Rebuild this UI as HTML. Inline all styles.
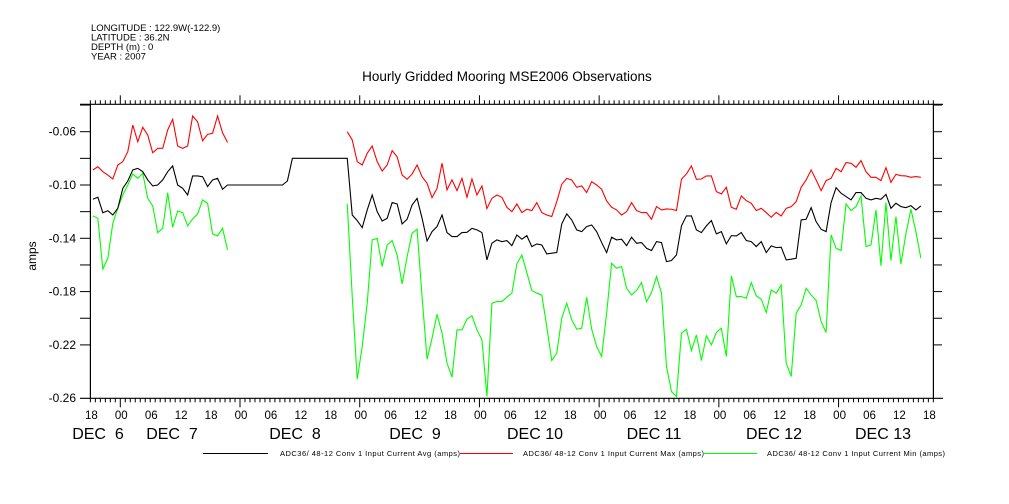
<!DOCTYPE html>
<html><head><meta charset="utf-8">
<style>
html,body{margin:0;padding:0;background:#fff;}
svg{display:block;font-family:"Liberation Sans",sans-serif;}
</style></head>
<body>
<svg id="chart" width="1009" height="504" viewBox="0 0 1009 504" xmlns="http://www.w3.org/2000/svg">
<g font-size="9.5" fill="#000">
<text x="91" y="31">LONGITUDE : 122.9W(-122.9)</text>
<text x="91" y="40.5">LATITUDE : 36.2N</text>
<text x="91" y="50">DEPTH (m) : 0</text>
<text x="91" y="59.5">YEAR : 2007</text>
</g>
<text x="507" y="81" font-size="13.5" text-anchor="middle">Hourly Gridded Mooring MSE2006 Observations</text>
<text x="0" y="0" font-size="12" text-anchor="middle" transform="translate(36,256) rotate(-90)">amps</text>
<g id="axes"></g>
<g id="series"></g>
<g font-size="7.5">
<line x1="203" y1="453.5" x2="268" y2="453.5" stroke="#000" stroke-width="1"/>
<text x="280" y="456" textLength="180">ADC36/ 48-12 Conv 1 Input Current Avg (amps)</text>
<line x1="460" y1="453.5" x2="513" y2="453.5" stroke="#f00" stroke-width="1"/>
<text x="523" y="456" textLength="181">ADC36/ 48-12 Conv 1 Input Current Max (amps)</text>
<line x1="703" y1="453.5" x2="757" y2="453.5" stroke="#0f0" stroke-width="1"/>
<text x="767" y="456" textLength="178">ADC36/ 48-12 Conv 1 Input Current Min (amps)</text>
</g>
</svg>
<script>
// hours since Dec 6 00:00 of first sample in each segment
const seg1Start = -5.5;
const gapStart = 22.5;
const seg2Start = 45.5;
const yTicks = [-0.06,-0.10,-0.14,-0.18,-0.22,-0.26];
const yTickLabels = ["-0.06","-0.10","-0.14","-0.18","-0.22","-0.26"];
const hourLabels = ["18","00","06","12","18","00","06","12","18","00","06","12","18","00","06","12","18","00","06","12","18","00","06","12","18","00","06","12","18"];
const dayLabels = ["DEC  6","DEC  7","DEC  8","DEC  9","DEC 10","DEC 11","DEC 12","DEC 13"];

const maxSeg1 = [-0.0887,-0.0863,-0.090,-0.0925,-0.0955,-0.085,-0.0825,-0.075,-0.055,-0.0675,-0.0567,-0.0625,-0.0758,-0.0725,-0.0725,-0.0587,-0.0507,-0.0707,-0.0725,-0.0707,-0.0482,-0.0525,-0.0668,-0.062,-0.0612,-0.0482,-0.0608,-0.068];
const avgSeg1 = [-0.1107,-0.1092,-0.1208,-0.1193,-0.1225,-0.1175,-0.1025,-0.097,-0.0887,-0.0875,-0.090,-0.0962,-0.1007,-0.100,-0.0962,-0.090,-0.0857,-0.100,-0.1025,-0.1075,-0.0932,-0.0932,-0.0938,-0.1012,-0.0962,-0.095,-0.1032,-0.100];
const minSeg1 = [-0.1232,-0.125,-0.1632,-0.155,-0.1287,-0.1175,-0.1075,-0.100,-0.0917,-0.095,-0.0912,-0.110,-0.1157,-0.1358,-0.1325,-0.1058,-0.1317,-0.1195,-0.1208,-0.1307,-0.1255,-0.1217,-0.1112,-0.1137,-0.1367,-0.1382,-0.1325,-0.1487];
const avgGap = [-0.10,-0.10,-0.10,-0.10,-0.10,-0.10,-0.10,-0.10,-0.10,-0.10,-0.10,-0.097,-0.08,-0.08,-0.08,-0.08,-0.08,-0.08,-0.08,-0.08,-0.08,-0.08,-0.08];
const maxSeg2 = [-0.060,-0.0662,-0.0825,-0.085,-0.0762,-0.0707,-0.0825,-0.0895,-0.085,-0.0742,-0.0788,-0.0925,-0.0957,-0.0917,-0.085,-0.0938,-0.0987,-0.1095,-0.1025,-0.0837,-0.1037,-0.0962,-0.1042,-0.095,-0.1092,-0.0955,-0.1075,-0.1007,-0.1177,-0.110,-0.1075,-0.1092,-0.1167,-0.120,-0.1142,-0.1207,-0.1182,-0.1192,-0.1132,-0.1207,-0.1225,-0.1237,-0.1125,-0.0995,-0.095,-0.0962,-0.1017,-0.1007,-0.1057,-0.0975,-0.100,-0.1032,-0.112,-0.1167,-0.1187,-0.1225,-0.120,-0.1132,-0.1192,-0.1207,-0.1207,-0.1257,-0.1162,-0.1187,-0.118,-0.1182,-0.1192,-0.0957,-0.0917,-0.0857,-0.0957,-0.0955,-0.0932,-0.0932,-0.105,-0.1067,-0.1017,-0.1167,-0.1182,-0.1082,-0.1117,-0.1137,-0.1192,-0.1175,-0.1207,-0.1242,-0.1205,-0.1232,-0.1175,-0.1162,-0.1125,-0.1017,-0.0962,-0.0887,-0.0962,-0.1042,-0.0967,-0.095,-0.0875,-0.090,-0.0832,-0.0837,-0.0867,-0.0817,-0.090,-0.0942,-0.0942,-0.0967,-0.087,-0.098,-0.092,-0.093,-0.0932,-0.0942,-0.0937,-0.0942];
const avgSeg2 = [-0.080,-0.1225,-0.1267,-0.132,-0.1187,-0.1075,-0.120,-0.127,-0.125,-0.1132,-0.1142,-0.1292,-0.1257,-0.115,-0.110,-0.125,-0.142,-0.135,-0.1312,-0.1225,-0.1357,-0.1387,-0.1387,-0.1357,-0.1355,-0.1325,-0.1337,-0.1357,-0.1562,-0.1437,-0.1412,-0.1425,-0.1417,-0.1455,-0.1375,-0.1407,-0.138,-0.1462,-0.1442,-0.145,-0.1517,-0.1512,-0.1507,-0.1292,-0.1217,-0.1262,-0.1337,-0.135,-0.1312,-0.130,-0.135,-0.1432,-0.1507,-0.1392,-0.1412,-0.1407,-0.1455,-0.1392,-0.1437,-0.1432,-0.1475,-0.1492,-0.1425,-0.1432,-0.1575,-0.1567,-0.1525,-0.1307,-0.1232,-0.1232,-0.1337,-0.1357,-0.1307,-0.1267,-0.1367,-0.135,-0.1442,-0.138,-0.1382,-0.1357,-0.1417,-0.1425,-0.1462,-0.1425,-0.1507,-0.1457,-0.147,-0.1467,-0.1562,-0.1557,-0.155,-0.1262,-0.1257,-0.117,-0.1275,-0.1332,-0.135,-0.1132,-0.102,-0.1062,-0.1087,-0.1112,-0.1057,-0.1057,-0.110,-0.1112,-0.110,-0.1107,-0.107,-0.1175,-0.1137,-0.1162,-0.117,-0.1155,-0.1187,-0.1157];
const minSeg2 = [-0.1142,-0.1837,-0.2457,-0.2212,-0.1887,-0.1412,-0.140,-0.1612,-0.145,-0.1417,-0.1525,-0.1742,-0.1537,-0.1362,-0.1332,-0.1837,-0.2307,-0.215,-0.197,-0.2112,-0.2337,-0.2442,-0.2087,-0.2087,-0.2007,-0.1982,-0.2087,-0.2162,-0.2587,-0.1887,-0.1875,-0.1875,-0.1842,-0.1812,-0.1592,-0.1525,-0.1657,-0.1792,-0.1812,-0.1825,-0.2062,-0.2317,-0.2262,-0.200,-0.1887,-0.2012,-0.2082,-0.2075,-0.1842,-0.2082,-0.2212,-0.2287,-0.1962,-0.1587,-0.1625,-0.1612,-0.1775,-0.1825,-0.1792,-0.1732,-0.1875,-0.1807,-0.1687,-0.1812,-0.2362,-0.255,-0.2587,-0.2112,-0.2082,-0.2242,-0.2125,-0.2317,-0.2132,-0.220,-0.2107,-0.2075,-0.2287,-0.1682,-0.1837,-0.1837,-0.185,-0.1732,-0.1832,-0.1857,-0.1957,-0.1787,-0.1812,-0.175,-0.2337,-0.2437,-0.1962,-0.190,-0.1775,-0.1825,-0.1867,-0.2025,-0.2107,-0.1375,-0.1475,-0.1492,-0.1142,-0.1192,-0.1162,-0.1082,-0.1462,-0.145,-0.1187,-0.1607,-0.1132,-0.1567,-0.1237,-0.1592,-0.1367,-0.1182,-0.135,-0.155];

const NS = "http://www.w3.org/2000/svg";
function xScale(t){ return 120.3 + 4.988 * t; }
function yScale(v){ return 131.7 + (-0.06 - v) / 0.02 * 26.65; }
const L = 90.4, R = 933.4, T = 104.3, B = 398.3;
const axes = document.getElementById('axes');
const series = document.getElementById('series');
function mk(tag, attrs, parent){
  const e = document.createElementNS(NS, tag);
  for (const k in attrs) e.setAttribute(k, attrs[k]);
  parent.appendChild(e);
  return e;
}
let e;
e = mk('line',{x1:80,y1:T,x2:943,y2:T,stroke:'#000','stroke-width':1.2},axes);


e = mk('line',{x1:80,y1:B,x2:943,y2:B,stroke:'#000','stroke-width':1.2},axes);


e = mk('line',{x1:L,y1:T,x2:L,y2:B,stroke:'#000','stroke-width':1.2},axes);


e = mk('line',{x1:R,y1:T,x2:R,y2:B,stroke:'#000','stroke-width':1.2},axes);


for (let i = 0; i <= 10; i++){
  const v = -0.06 - 0.02*i + 0.04;
  const y = yScale(v);
  if (y < T - 1 || y > B + 1) continue;
  e = mk('line',{x1:80,y1:y,x2:L,y2:y,stroke:'#000','stroke-width':1},axes);
  
  
  e = mk('line',{x1:R,y1:y,x2:942,y2:y,stroke:'#000','stroke-width':1},axes);
  
  
}
yTicks.forEach((v,i)=>{
  const t = mk('text',{x:76,y:yScale(v)+4,'font-size':12,'text-anchor':'end'},axes);
  t.textContent = yTickLabels[i];
  
  
});
for (let h = -6; h <= 163; h++){
  const x = xScale(h);
  const major = ((h % 24) + 24) % 24 === 0;
  const len = major ? 9 : 4;
  e = mk('line',{x1:x,y1:T,x2:x,y2:T-len,stroke:'#000','stroke-width':1},axes);
  
  
  e = mk('line',{x1:x,y1:B,x2:x,y2:B+len,stroke:'#000','stroke-width':1},axes);
  
  
}
hourLabels.forEach((s,i)=>{
  const t = mk('text',{x:xScale(-6+6*i)+1,y:419,'font-size':11.5,'text-anchor':'middle'},axes);
  t.textContent = s;
  
  
});
const dayX = [98,172,295,415,535,654,774,883];
dayLabels.forEach((s,i)=>{
  const t = mk('text',{x:dayX[i],y:439,'font-size':16,'text-anchor':'middle'},axes);
  t.setAttribute('style','white-space:pre');
  t.textContent = s;
  
  
});
function pathFrom(vals, start){
  return vals.map((v,i)=>(i?'L':'M')+xScale(start+i).toFixed(2)+' '+yScale(v).toFixed(2)).join(' ');
}
function drawLine(d, color, name){
  const p = mk('path',{d:d,fill:'none',stroke:color,'stroke-width':1.1,'stroke-linejoin':'miter'},series);
  
  
}
const avgAll = avgSeg1.concat(avgGap, avgSeg2);
drawLine(pathFrom(maxSeg1, seg1Start), '#f00', 'max-current-line-1');
drawLine(pathFrom(maxSeg2, seg2Start), '#f00', 'max-current-line-2');
drawLine(pathFrom(minSeg1, seg1Start), '#0f0', 'min-current-line-1');
drawLine(pathFrom(minSeg2, seg2Start), '#0f0', 'min-current-line-2');
drawLine(pathFrom(avgAll, seg1Start), '#000', 'avg-current-line');
</script>
</body></html>
